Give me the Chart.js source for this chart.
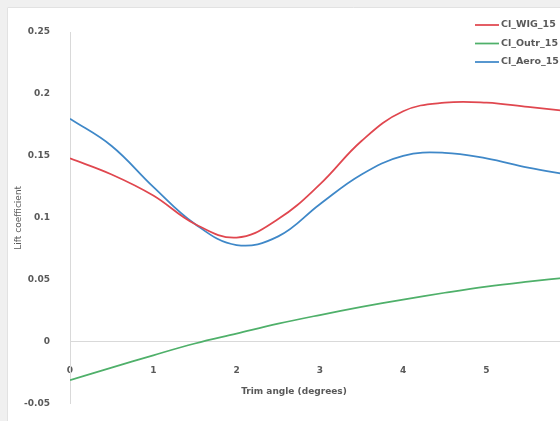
<!DOCTYPE html>
<html><head><meta charset="utf-8">
<script src="https://cdn.jsdelivr.net/npm/chart.js@4"></script>
<style>
html,body{margin:0;padding:0;overflow:hidden;background:#f2f2f2;width:560px;height:421px}
#wrap{position:absolute;left:0;top:0;width:700px;height:421px}
</style></head>
<body><div id="wrap"><canvas id="c" width="700" height="421"></canvas></div>
<script>
const trimAngles = [0, 0.5, 1, 1.5, 2, 2.5, 3, 3.5, 4, 4.5, 5, 5.5, 6];
const clWIG  = [0.148, 0.135, 0.118, 0.095, 0.084, 0.099, 0.127, 0.162, 0.186, 0.193, 0.193, 0.1895, 0.186];
const clOutr = [-0.031, -0.021, -0.011, -0.0015, 0.0065, 0.0145, 0.0215, 0.028, 0.034, 0.0395, 0.0445, 0.0485, 0.052];
const clAero = [0.180, 0.158, 0.125, 0.095, 0.078, 0.085, 0.111, 0.135, 0.150, 0.1525, 0.148, 0.1405, 0.1345];
const seriesLabels = ['Cl_WIG_15', 'Cl_Outr_15', 'Cl_Aero_15'];
const seriesColors = ['#e0474f', '#4fb06a', '#3f88c8'];
const yTickValues = [-0.05, 0, 0.05, 0.1, 0.15, 0.2, 0.25];
const yTickLabels = ['-0.05', '0', '0.05', '0.1', '0.15', '0.2', '0.25'];
const xTickLabels = ['0', '1', '2', '3', '4', '5', '6', '7'];
const xTitle = 'Trim angle (degrees)';
const yTitle = 'Lift coefficient';

const FONT = '"DejaVu Sans", sans-serif';
const TXT = '#595959';

const series = [clWIG, clOutr, clAero];
const datasets = series.map((vals, i) => ({
  label: seriesLabels[i],
  data: trimAngles.map((x, j) => ({x: x, y: vals[j]})),
  borderColor: seriesColors[i],
  borderWidth: 1.75,
  pointRadius: 0,
  tension: 0.4,
  fill: false
}));

const framePlugin = {
  id: 'frame',
  beforeDraw(chart) {
    const ctx = chart.ctx;
    ctx.save();
    ctx.fillStyle = '#f0f0f0';
    ctx.fillRect(0, 0, chart.width, chart.height);
    ctx.fillStyle = '#ffffff';
    ctx.fillRect(7, 7, chart.width - 7, chart.height - 7);
    ctx.strokeStyle = '#e2e2e2';
    ctx.lineWidth = 1;
    ctx.beginPath();
    ctx.moveTo(7.5, chart.height);
    ctx.lineTo(7.5, 7.5);
    ctx.lineTo(chart.width, 7.5);
    ctx.stroke();
    ctx.restore();
  },
  afterDraw(chart) {
    const ctx = chart.ctx;
    ctx.save();
    ctx.font = 'bold 9px ' + FONT;
    ctx.fillStyle = TXT;
    ctx.textAlign = 'center';
    ctx.textBaseline = 'middle';
    ctx.fillText(xTitle, 294, 392);
    const rows = [25, 43.5, 62];
    chart.data.datasets.forEach((ds, i) => {
      ctx.strokeStyle = ds.borderColor;
      ctx.lineWidth = 1.75;
      ctx.beginPath();
      ctx.moveTo(475, rows[i]);
      ctx.lineTo(499, rows[i]);
      ctx.stroke();
      ctx.fillStyle = TXT;
      ctx.textAlign = 'left';
      ctx.font = 'bold 9.5px ' + FONT;
      ctx.fillText(ds.label, 501, rows[i]);
    });
    ctx.restore();
  }
};

new Chart(document.getElementById('c'), {
  type: 'line',
  data: { datasets: datasets },
  options: {
    responsive: false,
    animation: false,
    layout: { padding: { top: 32, bottom: 5, left: 0, right: 47 } },
    plugins: { legend: { display: false }, tooltip: { enabled: false } },
    scales: {
      x: {
        type: 'linear',
        position: { y: 0 },
        min: 0, max: 7,
        grid: { display: false },
        border: { display: true, color: '#d9d9d9', width: 1 },
        ticks: {
          stepSize: 1,
          padding: 16,
          color: TXT,
          font: { family: FONT, size: 9, weight: 'bold' },
          callback: (v, i) => xTickLabels[i]
        }
      },
      y: {
        type: 'linear',
        min: -0.05, max: 0.25,
        grid: { display: false },
        border: { display: true, color: '#d9d9d9', width: 1 },
        afterFit: s => { s.width = 70; },
        afterBuildTicks: s => { s.ticks = yTickValues.map(v => ({value: v})); },
        ticks: {
          padding: 12,
          color: TXT,
          font: { family: FONT, size: 9, weight: 'bold' },
          callback: (v, i) => yTickLabels[i]
        },
        title: {
          display: true,
          text: yTitle,
          color: TXT,
          padding: { top: 13, bottom: 0 },
          font: { family: FONT, size: 9 }
        }
      }
    }
  },
  plugins: [framePlugin]
});
</script>
</body></html>
